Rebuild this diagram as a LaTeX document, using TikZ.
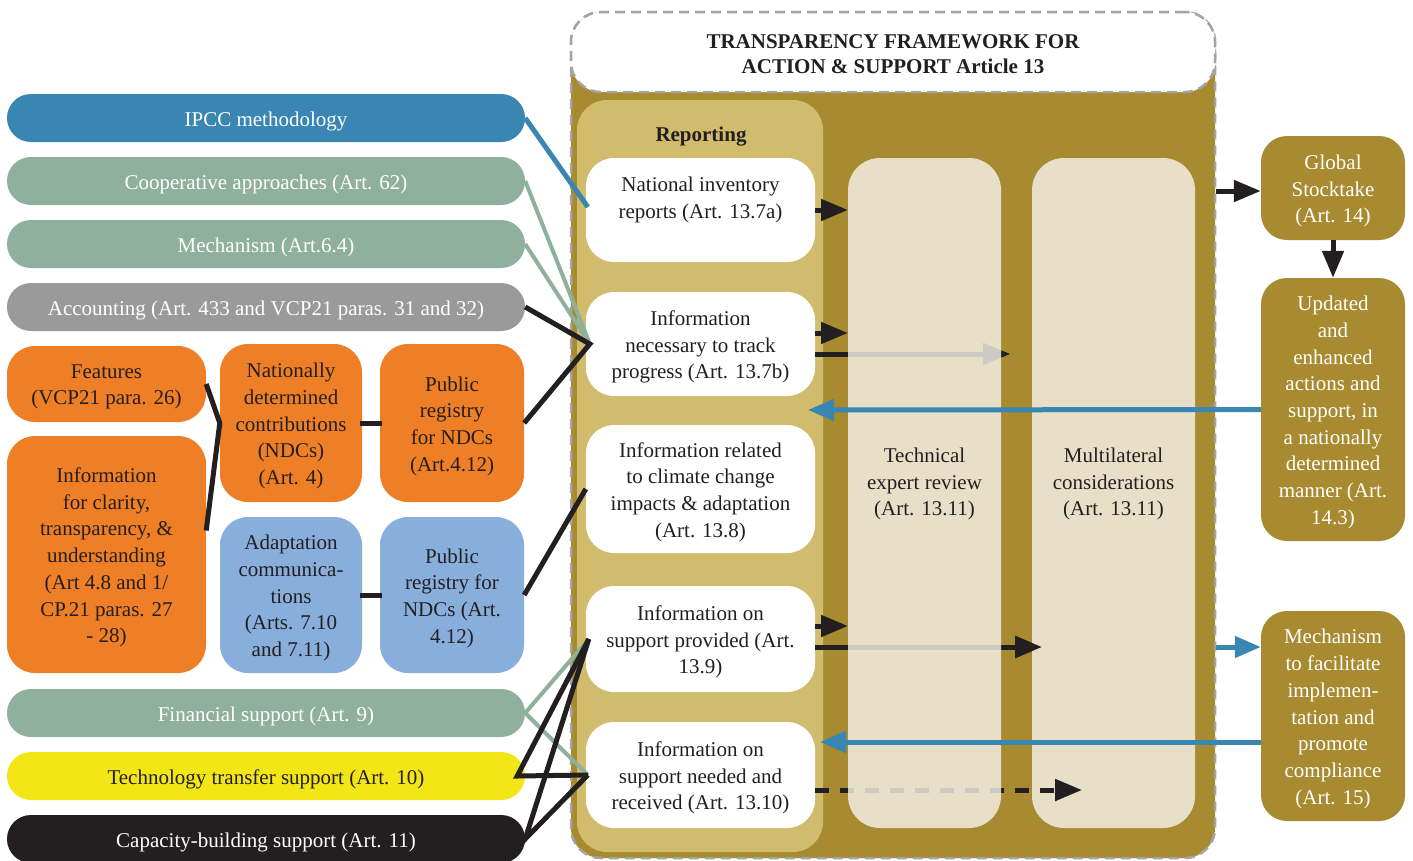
\documentclass[tikz,border=0pt]{standalone}
\usepackage{fontspec}
\setmainfont{Liberation Serif}
\usetikzlibrary{arrows.meta}

\definecolor{frameBrown}{HTML}{A88A30}
\definecolor{reportGold}{HTML}{D0BC6C}
\definecolor{colPanel}{RGB}{248,245,238}
\definecolor{ipccBlue}{HTML}{3A86B2}
\definecolor{sageGreen}{HTML}{8FB09C}
\definecolor{midGrey}{HTML}{9A9A9A}
\definecolor{ndcOrange}{HTML}{EE7F26}
\definecolor{adaptBlue}{HTML}{88AEDC}
\definecolor{techYellow}{HTML}{F2E616}
\definecolor{inkBlack}{HTML}{231F20}
\definecolor{dashGrey}{HTML}{A4A4A4}

\tikzset{
  txt/.style={font=\fontsize{21}{26.7}\selectfont, align=center, inner sep=0pt, text=inkBlack},
  shp/.style={inner sep=0pt},
  pill/.style={shp, rounded corners=23.9pt, minimum width=518pt, minimum height=48pt},
  card/.style={shp, rounded corners=28pt},
  repbox/.style={card, fill=white, minimum width=229pt},
  sidebox/.style={shp, rounded corners=26pt, fill=frameBrown, minimum width=144pt},
  panel/.style={shp, rounded corners=32pt, fill=colPanel, fill opacity=0.8, minimum height=670pt},
  dashframe/.style={shp, draw=dashGrey, line width=2.5pt, dash pattern=on 10pt off 6pt, rounded corners=30pt, minimum width=644pt},
  blkarrow/.style={draw=inkBlack, line width=5pt, -{Triangle[length=27pt,width=21pt]}},
  bluarrow/.style={draw=ipccBlue, line width=5pt, -{Triangle[length=26pt,width=21pt]}},
  blklink/.style={draw=inkBlack, line width=5pt},
  grnlink/.style={draw=sageGreen, line width=4pt},
}

% a filled box (#1 shape options, #2 name, #3 centre) with its text (#4 text options, #5 text)
\newcommand{\boxlabel}[5]{%
  \node[#1] (#2) at (#3) {};
  \node[txt, #4] (#2-text) at ([yshift=-3pt]#2.center) {#5};}

\newcommand{\drawLongArrows}{%
  \draw[blkarrow] ([yshift=-10pt]track.east) -- (trackLong);
  \draw[blkarrow] ([yshift=-8pt]prov.east) -- (provLong);
  \draw[blkarrow, dash pattern=on 14pt off 11pt] ([yshift=-15pt]need.east) -- (needLong);
}

\begin{document}
\begin{tikzpicture}[x=1pt,y=-1pt]
\useasboundingbox (0,0) rectangle (1413,860);

% transparency framework frame and heading
\node[dashframe, fill=frameBrown, minimum height=846pt] (frame) at (893,435) {};
\node[dashframe, fill=white, minimum height=80pt] (head) at (893,52) {};
\node[txt, font=\bfseries\fontsize{21}{25}\selectfont] (title) at ([yshift=-2pt]head.center)
  {TRANSPARENCY FRAMEWORK FOR\\ACTION \& SUPPORT Article 13};

% reporting column
\node[shp, rounded corners=30pt, fill=reportGold, minimum width=246pt, minimum height=752pt] (reporting) at (700,476) {};
\node[txt, font=\bfseries\fontsize{21}{26.7}\selectfont] (replabel) at (701,137) {Reporting};

\boxlabel{repbox, minimum height=104pt}{nir}{700.5,210}{yshift=13pt}{National inventory\\reports (Art. 13.7a)}
\boxlabel{repbox, minimum height=104pt}{track}{700.5,344}{}{Information\\necessary to track\\progress (Art. 13.7b)}
\boxlabel{repbox, minimum height=128pt}{climate}{700.5,489}{}{Information related\\to climate change\\impacts \& adaptation\\(Art. 13.8)}
\boxlabel{repbox, minimum height=106pt}{prov}{700.5,639}{}{Information on\\support provided (Art.\\13.9)}
\boxlabel{repbox, minimum height=106pt}{need}{700.5,775}{}{Information on\\support needed and\\received (Art. 13.10)}

% left-hand inputs
\boxlabel{pill, fill=ipccBlue}{ipcc}{266,118}{text=white}{IPCC methodology}
\boxlabel{pill, fill=sageGreen}{coop}{266,181}{text=white}{Cooperative approaches (Art. 62)}
\boxlabel{pill, fill=sageGreen}{mech}{266,244}{text=white}{Mechanism (Art.6.4)}
\boxlabel{pill, fill=midGrey}{acct}{266,307}{text=white}{Accounting (Art. 433 and VCP21 paras. 31 and 32)}
\boxlabel{pill, fill=sageGreen}{fin}{266,713}{text=white}{Financial support (Art. 9)}
\boxlabel{pill, fill=techYellow}{tech}{266,776}{}{Technology transfer support (Art. 10)}
\boxlabel{pill, fill=inkBlack}{cap}{266,839}{text=white}{Capacity-building support (Art. 11)}

\boxlabel{card, fill=ndcOrange, minimum width=199pt, minimum height=76pt}{feat}{106.5,384}{}{Features\\(VCP21 para. 26)}
\boxlabel{card, fill=ndcOrange, minimum width=199pt, minimum height=237pt}{clar}{106.5,554.5}{}%
  {Information\\for clarity,\\transparency, \&\\understanding\\(Art 4.8 and 1/\\CP.21 paras. 27\\- 28)}
\boxlabel{card, fill=ndcOrange, minimum width=142pt, minimum height=158pt}{ndc}{291,423}{}%
  {Nationally\\determined\\contributions\\(NDCs)\\(Art. 4)}
\boxlabel{card, fill=ndcOrange, minimum width=144pt, minimum height=158pt}{regO}{452,423}{}%
  {Public\\registry\\for NDCs\\(Art.4.12)}
\boxlabel{card, fill=adaptBlue, minimum width=142pt, minimum height=156pt}{adapt}{291,595}{}%
  {Adaptation\\communica-\\tions\\(Arts. 7.10\\and 7.11)}
\boxlabel{card, fill=adaptBlue, minimum width=144pt, minimum height=156pt}{regB}{452,595}{}%
  {Public\\registry for\\NDCs (Art.\\4.12)}

% links into reporting
\coordinate (trackV) at ([xshift=4pt]track.west);
\coordinate (provV) at ([xshift=3pt]prov.west);
\coordinate (needV) at ([xshift=2pt]need.west);
\draw[draw=ipccBlue, line width=5pt] (ipcc.east) -- ([xshift=2pt,yshift=3pt]nir.west);
\draw[grnlink] (coop.east) -- (trackV);
\draw[grnlink] (mech.east) -- (trackV);
\draw[grnlink] (fin.east) -- (provV);
\draw[grnlink] (fin.east) -- (needV);
\draw[blklink] (acct.east) -- (trackV) -- (regO.east);
\draw[blklink] (feat.east) -- (ndc.west) -- ([yshift=24pt]clar.east);
\draw[blklink] ([xshift=-2pt]ndc.east) -- ([xshift=2pt]regO.west);
\draw[blklink] ([xshift=-2pt]adapt.east) -- ([xshift=2pt]regB.west);
\draw[blklink] (regB.east) -- (climate.west);
\draw[blklink] (provV) -- ([xshift=-8pt]tech.east) -- (needV);
\draw[blklink] (provV) -- (cap.east) -- (needV);

% reporting to review arrows (pass beneath the review panels)
\coordinate (trackLong) at (1010,354);
\coordinate (provLong) at (1042,647);
\coordinate (needLong) at (1082,790);
\draw[blkarrow] (nir.east) -- (nir.east -| 848,0);
\draw[blkarrow] ([yshift=11pt]track.east) -- ([yshift=11pt]track.east -| 848,0);
\draw[blkarrow] ([yshift=13pt]prov.east) -- ([yshift=13pt]prov.east -| 848,0);
\drawLongArrows

% review panels
\node[panel, minimum width=153pt] (ter) at (924.5,493) {};
\node[panel, minimum width=163pt] (multi) at (1113.5,493) {};
\node[txt] (terlabel) at (924.5,484) {Technical\\expert review\\(Art. 13.11)};
\node[txt] (multilabel) at (1113.5,484) {Multilateral\\considerations\\(Art. 13.11)};

% arrow ends beyond the first panel stay dark
\begin{scope}
  \clip (1002,0) rectangle (1413,860);
  \drawLongArrows
\end{scope}

% outcomes on the right
\boxlabel{sidebox, minimum height=104pt}{gs}{1333,188}{text=white}{Global\\Stocktake\\(Art. 14)}
\boxlabel{sidebox, minimum height=263pt}{upd}{1333,409.5}{text=white}%
  {Updated\\and\\enhanced\\actions and\\support, in\\a nationally\\determined\\manner (Art.\\14.3)}
\boxlabel{sidebox, minimum height=210pt}{m15}{1333,716}{text=white}%
  {Mechanism\\to facilitate\\implemen-\\tation and\\promote\\compliance\\(Art. 15)}

\coordinate (gsIn) at ([yshift=-3pt]gs.west);
\coordinate (m15In) at ([yshift=69pt]m15.west);
\coordinate (trackTip) at (808,410);
\coordinate (needTip) at (820,742);
\draw[blkarrow] (frame.east |- gsIn) -- (gsIn);
\draw[blkarrow] (gs.south) -- (upd.north);
\draw[bluarrow] (frame.east |- m15In) -- (m15In);
\draw[bluarrow] (upd.west) -- (trackTip);
\draw[bluarrow] (m15.west |- needTip) -- (needTip);
\end{tikzpicture}
\end{document}
